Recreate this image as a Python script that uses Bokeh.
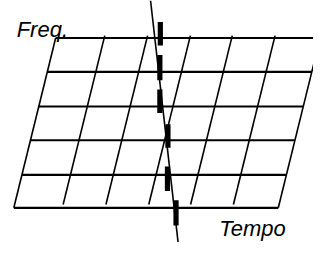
from bokeh.plotting import figure
from bokeh.models import Range1d, Label
from bokeh.embed import file_html
from bokeh.resources import INLINE

# ---- diagram data (diagram units, y measured downward) ----
freq_rows = [40, 76, 113, 149, 186, 221]            # horizontal grid lines
tempo_cols = [14, 65, 110, 155, 199, 244, 292]      # slanted grid lines, x at bottom row
skew = 0.243                                        # x shift per unit of height
trace_x = [157.7, 186.7]                            # thin slanted trace
trace_y = [0, 258]
dash_x = [168, 167.5, 167.5, 176, 175.5, 184.5]     # thick segments on the trace
dash_y0 = [23, 58, 95, 132, 177, 213]
dash_y1 = [48, 85, 120, 157, 203, 240]
x_label = "Tempo"
y_label = "Freq."

W, H = 313, 242
p = figure(width=W, height=H, output_backend="svg", toolbar_location=None,
           x_range=Range1d(0, 329), y_range=Range1d(258, 0),
           min_border=0, outline_line_color=None)
p.axis.visible = False
p.grid.visible = False

bottom = freq_rows[-1]
top = freq_rows[0]

# horizontal lines
hx0, hx1, hy = [], [], []
for y in freq_rows:
    hx0.append(tempo_cols[0] + skew * (bottom - y))
    hx1.append(tempo_cols[-1] + skew * (bottom - y))
    hy.append(y)
p.segment(x0=hx0, y0=hy, x1=hx1, y1=hy, line_color="black", line_width=2.2)

# slanted grid lines
vx0, vy0, vx1, vy1 = [], [], [], []
for i, c in enumerate(tempo_cols):
    inner = 0 < i < len(tempo_cols) - 1
    yb = bottom - 3.5 if inner else bottom
    yt = top - 2.5 if inner else top
    vx0.append(c + skew * (bottom - yb))
    vy0.append(yb)
    vx1.append(c + skew * (bottom - yt))
    vy1.append(yt)
p.segment(x0=vx0, y0=vy0, x1=vx1, y1=vy1, line_color="black", line_width=1.6)

# trace
p.line(trace_x, trace_y, line_color="black", line_width=1.6)
p.segment(x0=dash_x, y0=dash_y0, x1=dash_x, y1=dash_y1, line_color="black",
          line_width=5.2, line_cap="butt")

p.add_layout(Label(x=17, y=31, text=y_label, text_font="Liberation Sans",
                   text_font_style="italic", text_font_size="22px",
                   text_baseline="alphabetic", text_color="black"))
p.add_layout(Label(x=230, y=243, text=x_label, text_font="Liberation Sans",
                   text_font_style="italic", text_font_size="22px",
                   text_baseline="alphabetic", text_color="black"))

open("out.html", "w").write(file_html(p, INLINE))
